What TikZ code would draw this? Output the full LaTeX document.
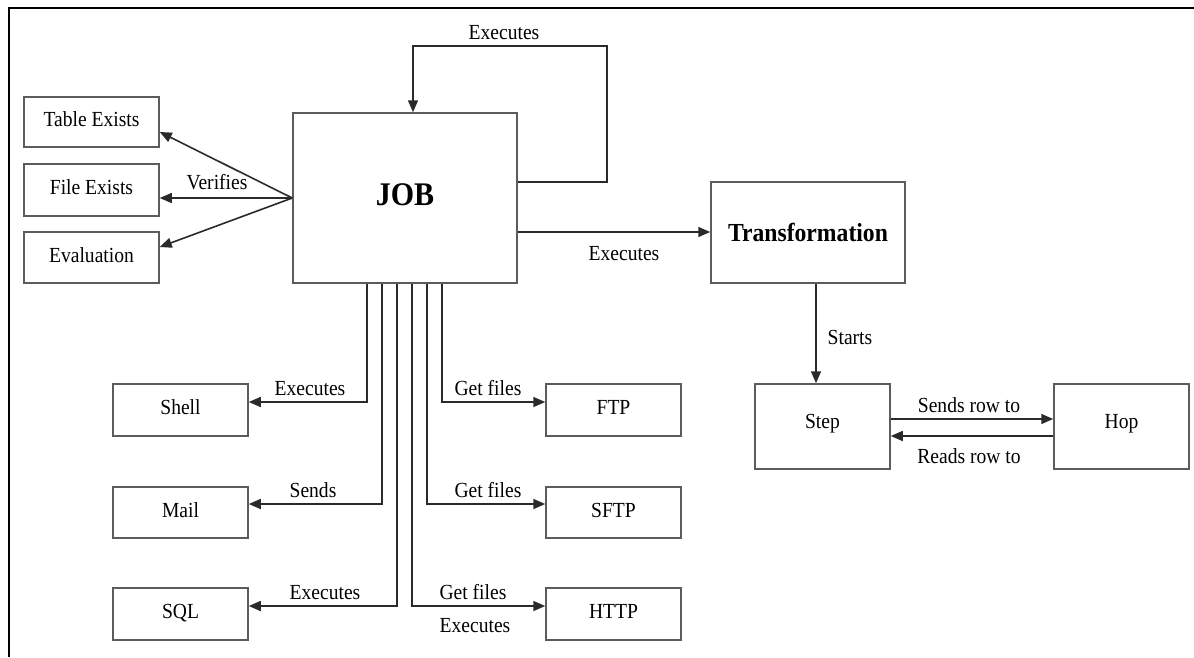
\documentclass[tikz,border=0pt]{standalone}
\usepackage{fontspec}
\setmainfont{Liberation Serif}[FakeStretch=0.91]
\usetikzlibrary{arrows.meta,calc}
\definecolor{boxgray}{HTML}{5C5C5C}
\definecolor{linegray}{HTML}{2A2A2A}
\newcommand\dgtext{\fontsize{21.5}{24}\selectfont}
\begin{document}
\begin{tikzpicture}[x=1pt,y=-1pt,
  box/.style={draw=boxgray,line width=1.5pt,fill=white,inner sep=0pt,
    minimum width=135pt,font=\dgtext,text height=15pt,text depth=6pt},
  lbl/.style={inner sep=0pt,font=\dgtext,text height=15pt,text depth=6pt},
  conn/.style={draw=linegray,line width=1.6pt,
    -{Triangle[length=12pt,width=10pt]}},
  plain/.style={draw=linegray,line width=1.6pt}]
\useasboundingbox (0,0) rectangle (1194,657);
% outer frame
\draw[line width=2.6pt,black] (9,657) -- (9,8) -- (1194,8);

% condition entries
\node[box,minimum height=50pt] (tbl) at (91.5,122) {Table Exists};
\node[box,minimum height=52pt] (fil) at (91.5,190) {File Exists};
\node[box,minimum height=51pt] (evl) at (91.5,257.5) {Evaluation};

% main job
\node[box,minimum width=224pt,minimum height=170pt,
  font=\fontsize{33}{36}\bfseries,text height=22pt,text depth=8pt] (job) at (405,198) {JOB};

% transformation, step and hop
\node[box,minimum width=194pt,minimum height=101pt,
  font=\fontsize{26}{30}\bfseries,text height=18pt,text depth=0pt] (trf) at (808,232.5) {Transformation};
\node[box,minimum height=85pt,text depth=12pt] (step) at (822.5,426.5) {Step};
\node[box,minimum height=85pt,text depth=12pt] (hop) at (1121.5,426.5) {Hop};

% job entries
\node[box,minimum height=52pt] (shell) at (180.5,410) {Shell};
\node[box,minimum height=51pt] (mail) at (180.5,512.5) {Mail};
\node[box,minimum height=52pt] (sql) at (180.5,614) {SQL};
\node[box,minimum height=52pt] (ftp) at (613.5,410) {FTP};
\node[box,minimum height=51pt] (sftp) at (613.5,512.5) {SFTP};
\node[box,minimum height=52pt] (http) at (613.5,614) {HTTP};

% verifies
\draw[conn] (job.west) -- ([yshift=-10pt]tbl.east);
\draw[conn] (job.west) -- (job.west -| fil.east);
\draw[conn] (job.west) -- ([yshift=10.5pt]evl.east);
\node[lbl] (vlab) at (217,185) {Verifies};

% job executes itself
\coordinate (loopTR) at (607,46);
\draw[conn] ([yshift=16pt]job.east) -| (loopTR) -| ([xshift=8pt]job.north);
\node[lbl] (exloop) at (504,35) {Executes};

% job executes transformation
\coordinate (trfin) at ([yshift=0.5pt]trf.west);
\draw[conn] (job.east |- trfin) -- (trfin);
\node[lbl] (extrf) at (624,256) {Executes};

% transformation starts step
\draw[conn] ([xshift=8pt]trf.south) -- ([xshift=8pt]trf.south |- step.north);
\node[lbl] (stlab) at (850,340) {Starts};

% step and hop
\draw[conn] ([yshift=7.5pt]step.east) -- ([yshift=7.5pt]step.east -| hop.west);
\draw[conn] ([yshift=-9.5pt]hop.west) -- ([yshift=-9.5pt]hop.west -| step.east);
\node[lbl] (sendrow) at (969,408) {Sends row to};
\node[lbl] (readrow) at (969,459) {Reads row to};

% job entries: left side
\draw[conn] ([xshift=-38pt]job.south) |- ([yshift=8pt]shell.east);
\draw[conn] ([xshift=-23pt]job.south) |- ([yshift=8.5pt]mail.east);
\draw[conn] ([xshift=-8pt]job.south) |- ([yshift=8pt]sql.east);
\node[lbl] (exshell) at (310,391) {Executes};
\node[lbl] (sendmail) at (313,493) {Sends};
\node[lbl] (exsql) at (325,595) {Executes};

% job entries: right side
\draw[conn] ([xshift=37pt]job.south) |- ([yshift=8pt]ftp.west);
\draw[conn] ([xshift=22pt]job.south) |- ([yshift=8.5pt]sftp.west);
\draw[conn] ([xshift=7pt]job.south) |- ([yshift=8pt]http.west);
\node[lbl] (getftp) at (488,391) {Get files};
\node[lbl] (getsftp) at (488,493) {Get files};
\node[lbl] (gethttp) at (473,595) {Get files};
\node[lbl] (exhttp) at (475,628) {Executes};
\end{tikzpicture}
\end{document}
